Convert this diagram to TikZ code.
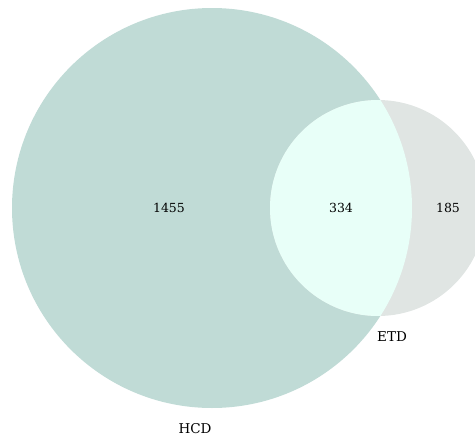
\documentclass[tikz,border=0pt]{standalone}
\usepackage{fontspec}
\setmainfont{DejaVu Serif}
\definecolor{hcdcol}{HTML}{C0DBD6}
\definecolor{etdcol}{HTML}{E0E5E3}
\definecolor{bothcol}{HTML}{E8FFF8}
\tikzset{
  num/.style={font=\fontsize{12.5}{14}\selectfont, text=black, inner sep=0pt},
  setlabel/.style={font=\fontsize{13.5}{15}\selectfont, text=black, inner sep=0pt}
}
\begin{document}
\begin{tikzpicture}[x=1pt,y=-1pt]
  \useasboundingbox (0,0) rectangle (475,437);
  \begin{scope}
    \clip (0,0) rectangle (475,437);
    \fill[hcdcol] (212,208) circle[radius=200];
    \fill[etdcol] (378,208) circle[radius=108];
    \begin{scope}
      \clip (212,208) circle[radius=200];
      \fill[bothcol] (378,208) circle[radius=108];
    \end{scope}
  \end{scope}
  \node[num] (a) at (169,208) {1455};
  \node[num] (ab) at (341,208) {334};
  \node[num] (b) at (448,208) {185};
  \node[setlabel] (etd) at (392,337) {ETD};
  \node[setlabel] (hcd) at (195,429) {HCD};
\end{tikzpicture}
\end{document}
